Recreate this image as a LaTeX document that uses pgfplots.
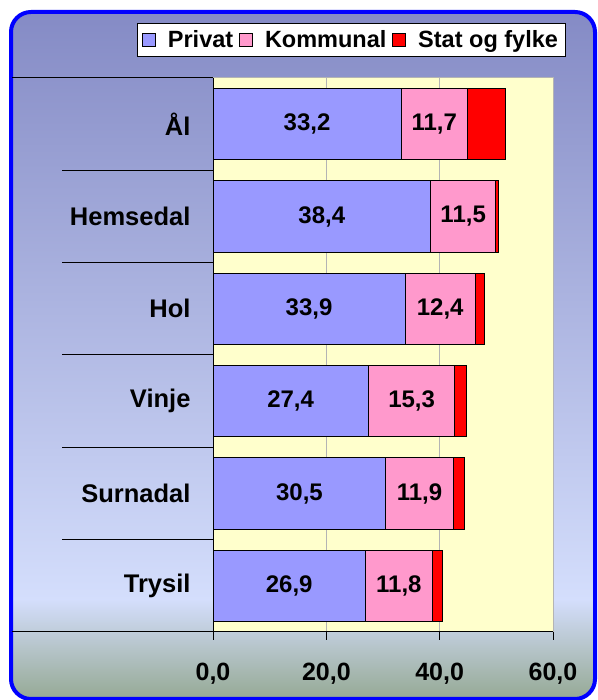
\documentclass[border=0pt]{standalone}
\usepackage{pgfplots}
\pgfplotsset{compat=1.18}
\usepackage{pgfplotstable}
\usepackage{fontspec}
\setmainfont{Liberation Sans}
\definecolor{priv}{HTML}{9999FF}
\definecolor{komm}{HTML}{FF99CC}
\definecolor{stat}{HTML}{FF0000}
\definecolor{plotbg}{HTML}{FFFFCC}
\definecolor{bgtop}{HTML}{8389C4}
\definecolor{bgmid}{HTML}{D4DEFC}
\definecolor{bgbot}{HTML}{94A892}
\definecolor{gridc}{HTML}{B4B4B4}
\newcommand\labfont{\fontsize{24}{28}\selectfont\bfseries}
\newcommand\catfont{\fontsize{25.5}{30}\selectfont\bfseries}
\newcommand\tickfont{\fontsize{25}{30}\selectfont\bfseries}
\newcommand\legfont{\fontsize{23.5}{27}\selectfont\bfseries}
\pgfplotstableread{
y P K S
6 33.2 11.7 6.8
5 38.4 11.5 0.5
4 33.9 12.4 1.6
3 27.4 15.3 2.0
2 30.5 11.9 2.0
1 26.9 11.8 1.8
}\data
\begin{document}
\begin{tikzpicture}[x=1pt,y=1pt]
\path[use as bounding box] (0,0) rectangle (597,700);
\begin{scope}
\clip[rounded corners=20pt] (11,1) rectangle (595,688);
\shade[top color=bgtop, bottom color=bgmid] (0,100) rectangle (597,700);
\shade[top color=bgmid, bottom color=bgbot] (0,-1) rectangle (597,100.5);
\end{scope}
\draw[blue, line width=4pt, rounded corners=20pt] (11,1) rectangle (595,688);
\begin{axis}[
  at={(213pt,68pt)}, anchor=south west,
  scale only axis, width=340pt, height=554pt,
  xbar stacked, bar width=0.77,
  xmin=0, xmax=60, ymin=0.5, ymax=6.5,
  clip=false,
  axis x line*=bottom, axis y line*=left,
  axis line style={black, line width=1pt},
  axis background/.style={fill=plotbg},
  ytick={1,2,3,4,5,6},
  yticklabels={Trysil,Surnadal,Vinje,Hol,Hemsedal,Ål},
  y tick style={draw=none},
  yticklabel style={font=\catfont, anchor=east, xshift=-19pt},
  xtick={0,20,40,60},
  xticklabels={{0,0},{20,0},{40,0},{60,0}},
  xtick align=outside,
  major tick length=8pt,
  x tick style={black, line width=1pt},
  xticklabel style={font=\tickfont, anchor=north, yshift=-20pt},
  xmajorgrids, grid style={gridc, line width=0.8pt},
  legend columns=-1,
  legend style={at={(0.406,1.0686)}, anchor=center, draw=black, fill=white,
    font=\legfont, line width=0.8pt, inner xsep=5pt, inner ysep=5pt,
    /tikz/every even column/.append style={column sep=4pt},
    /tikz/every odd column/.append style={column sep=10pt}},
  legend image code/.code={\draw[#1, draw=black, line width=0.8pt] (0pt,-6.5pt) rectangle (13pt,6.5pt);},
  nodes near coords style={font=\labfont},
]
\addplot[fill=priv, draw=black, line width=1pt,
  point meta=\thisrow{P},
  nodes near coords={\pgfmathprintnumber[fixed, fixed zerofill, precision=1, use comma, assume math mode=true]{\pgfplotspointmeta}},
  every node near coord/.append style={anchor=center}]
  table[x=P, y=y] {\data};
\addplot[fill=komm, draw=black, line width=1pt,
  point meta=\thisrow{K},
  nodes near coords={\pgfmathprintnumber[fixed, fixed zerofill, precision=1, use comma, assume math mode=true]{\pgfplotspointmeta}},
  every node near coord/.append style={anchor=center}]
  table[x=K, y=y] {\data};
\addplot[fill=stat, draw=black, line width=1pt] table[x=S, y=y] {\data};
\legend{Privat, Kommunal, Stat og fylke}
\draw[gridc, line width=1pt] (rel axis cs:0,1) -- (rel axis cs:1,1) -- (rel axis cs:1,0);
\draw[black, line width=1pt] (rel axis cs:0,1) -- ++(-201pt,0pt);
\draw[black, line width=1pt] (rel axis cs:0,0) -- ++(-201pt,0pt);
\pgfplotsinvokeforeach{1.5,2.5,3.5,4.5,5.5}{
  \draw[black, line width=1pt] (axis cs:0,#1) -- ++(-151pt,0pt);
}
\draw[black, line width=1pt] (rel axis cs:0,0) -- (rel axis cs:0,1);
\end{axis}
\end{tikzpicture}
\end{document}
